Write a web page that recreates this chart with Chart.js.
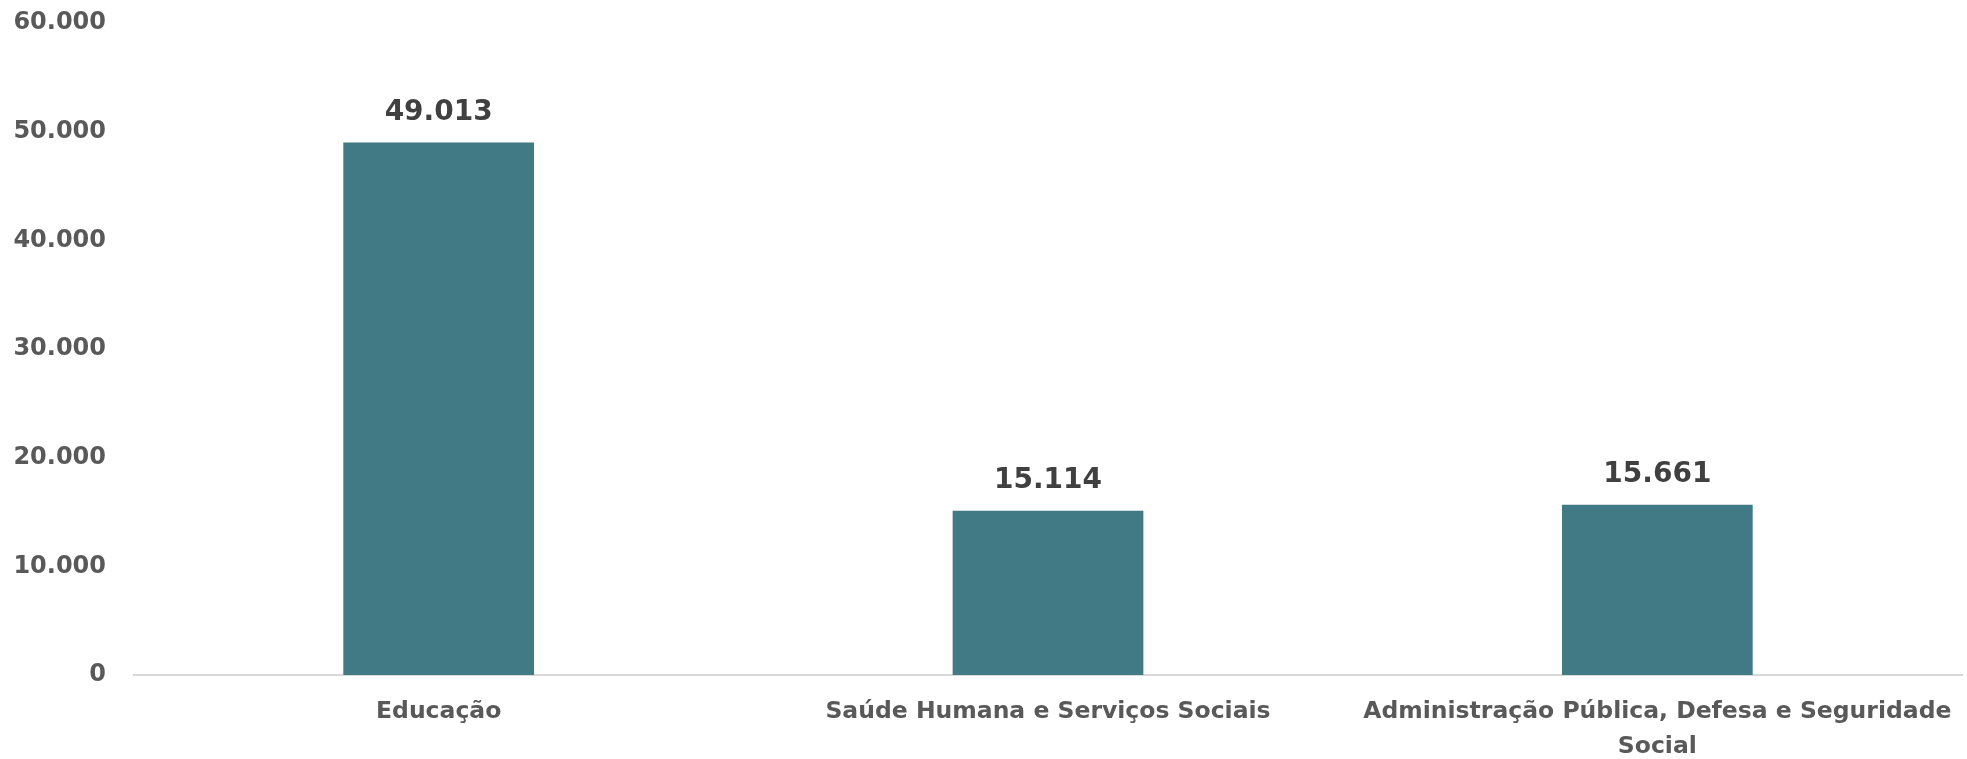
<!DOCTYPE html>
<html>
<head>
<meta charset="utf-8">
<script src="https://cdn.jsdelivr.net/npm/chart.js@4/dist/chart.umd.min.js"></script>
<style>
  html, body { margin: 0; padding: 0; background: #ffffff; overflow: hidden; }
  #wrap { width: 1967px; height: 759px; position: relative; }
</style>
</head>
<body>
<div id="wrap"><canvas id="c"></canvas></div>
<script>
const categories = [
  'Educação',
  'Saúde Humana e Serviços Sociais',
  ['Administração Pública, Defesa e Seguridade', 'Social']
];
const values = [49013, 15114, 15661];
const yTicks = [0, 10000, 20000, 30000, 40000, 50000, 60000];

const FONT = '"DejaVu Sans", sans-serif';
function fmt(v) { return String(v).replace(/\B(?=(\d{3})+(?!\d))/g, '.'); }

const valueLabels = {
  id: 'valueLabels',
  afterDatasetsDraw(chart) {
    const ctx = chart.ctx;
    const meta = chart.getDatasetMeta(0);
    ctx.save();
    ctx.font = 'bold 28px ' + FONT;
    ctx.fillStyle = '#404040';
    ctx.textAlign = 'center';
    ctx.textBaseline = 'middle';
    meta.data.forEach((bar, i) => {
      ctx.fillText(fmt(values[i]), bar.x, bar.y - 30);
    });
    ctx.restore();
  }
};

new Chart(document.getElementById('c'), {
  type: 'bar',
  data: {
    labels: categories,
    datasets: [{
      data: values,
      backgroundColor: '#417A84',
      borderWidth: 0,
      categoryPercentage: 1,
      barPercentage: 0.313
    }]
  },
  options: {
    responsive: true,
    maintainAspectRatio: false,
    animation: false,
    layout: { padding: { top: 23, right: 5, left: 12, bottom: 0 } },
    plugins: { legend: { display: false }, tooltip: { enabled: false } },
    scales: {
      x: {
        afterFit(scale) { scale.height = 84; scale.paddingLeft = 0; scale.paddingRight = 0; },
        grid: { display: false, drawTicks: false },
        border: { display: true, color: '#d9d9d9', width: 2 },
        ticks: {
          color: '#595959',
          font: { family: FONT, size: 23.5, weight: 'bold', lineHeight: 1.46 },
          padding: 20,
          maxRotation: 0,
          autoSkip: false
        }
      },
      y: {
        min: 0,
        max: 60000,
        afterBuildTicks(axis) { axis.ticks = yTicks.map(v => ({ value: v })); },
        afterFit(scale) { scale.width = 122; scale.paddingTop = 0; scale.paddingBottom = 0; },
        grid: { display: false, drawTicks: false },
        border: { display: false },
        ticks: {
          color: '#595959',
          font: { family: FONT, size: 24, weight: 'bold' },
          padding: 28,
          callback: (v) => fmt(v)
        }
      }
    }
  },
  plugins: [valueLabels]
});
</script>
</body>
</html>
